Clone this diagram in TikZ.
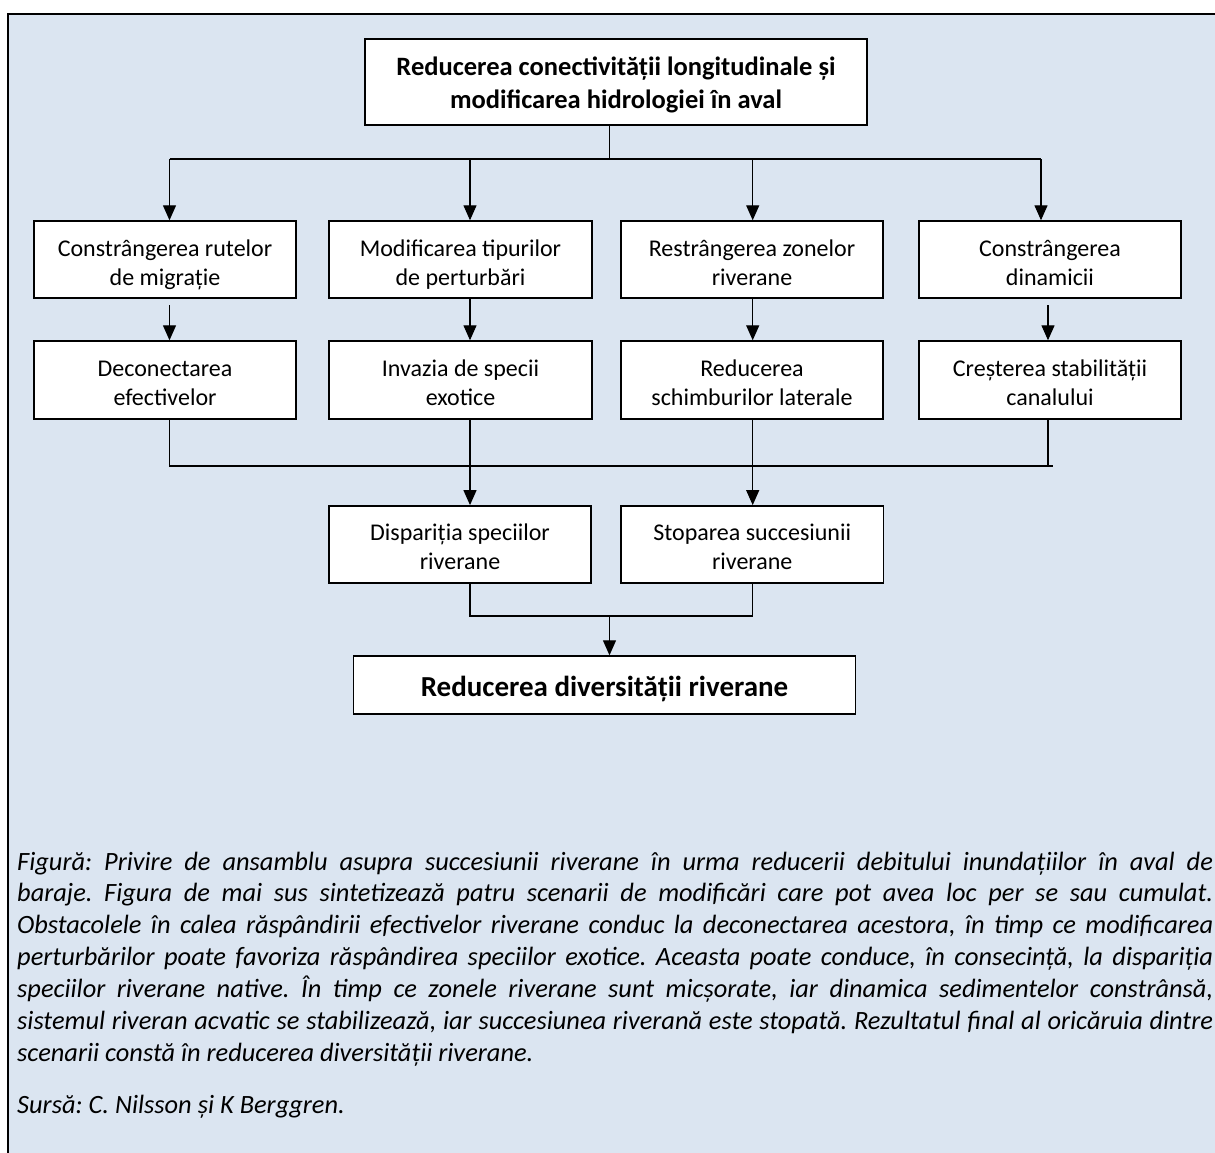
\documentclass[tikz,border=0pt]{standalone}
\usepackage{fontspec}
\setmainfont{Carlito}
\usetikzlibrary{arrows.meta}
\definecolor{bgblue}{HTML}{DBE5F1}
\frenchspacing
\begin{document}
\begin{tikzpicture}[x=1pt,y=-1pt,
  boxn/.style={draw=black, line width=1.4pt, fill=white, inner sep=0pt, align=center,
    font=\fontsize{24}{29}\selectfont, text height=51pt, text depth=0pt},
  ln/.style={draw=black, line width=1.2pt},
  arr/.style={ln, -{Triangle[width=13pt,length=15pt]}},
  capl/.style={anchor=base west, inner sep=0pt, font=\fontsize{26.4}{32}\selectfont\itshape}
]
\useasboundingbox (0,0) rectangle (1215,1153);
\clip (0,0) rectangle (1215,1153);
\fill[white] (0,0) rectangle (1215,1153);
\fill[bgblue] (8,14) rectangle (1240,1180);
\draw[line width=1.6pt] (8,1180) -- (8,14) -- (1240,14);

% top box
\node[boxn, minimum width=502pt, minimum height=86pt, font=\fontsize{26.5}{32.5}\selectfont\bfseries, text height=53pt]
  (top) at (616,82) {Reducerea conectivității longitudinale și\\modificarea hidrologiei în aval};

% row 1
\node[boxn, minimum width=262pt, minimum height=77pt] (b1) at (165,259.5) {Constrângerea rutelor\\de migrație};
\node[boxn, minimum width=263pt, minimum height=77pt] (b2) at (460.5,259.5) {Modificarea tipurilor\\de perturbări};
\node[boxn, minimum width=262pt, minimum height=77pt] (b3) at (752,259.5) {Restrângerea zonelor\\riverane};
\node[boxn, minimum width=262pt, minimum height=77pt] (b4) at (1050,259.5) {Constrângerea\\dinamicii};

% row 2
\node[boxn, minimum width=262pt, minimum height=78pt] (d1) at (165,380) {Deconectarea\\efectivelor};
\node[boxn, minimum width=263pt, minimum height=78pt] (d2) at (460.5,380) {Invazia de specii\\exotice};
\node[boxn, minimum width=262pt, minimum height=78pt] (d3) at (752,380) {Reducerea\\schimburilor laterale};
\node[boxn, minimum width=262pt, minimum height=78pt] (d4) at (1050,380) {Creșterea stabilității\\canalului};

% row 3
\node[boxn, minimum width=262pt, minimum height=77pt] (e1) at (460,544.3) {Dispariția speciilor\\riverane};
\node[boxn, minimum width=262.5pt, minimum height=77pt] (e2) at (752.2,544.3) {Stoparea succesiunii\\riverane};

% final
\node[boxn, minimum width=502pt, minimum height=58pt, font=\fontsize{29}{35}\selectfont\bfseries, text height=22pt]
  (fin) at (604.5,685) {Reducerea diversității riverane};

% connectors top
\coordinate (j0) at (609.5,159);
\coordinate (bl) at (169.5,159);
\coordinate (c2) at (470,159);
\coordinate (c3) at (752.7,159);
\coordinate (br) at (1041,159);
\draw[ln] (top.south -| j0) -- (j0);
\draw[ln] (bl) -- (br);
\draw[arr] (bl) -- (bl |- b1.north);
\draw[arr] (c2) -- (c2 |- b2.north);
\draw[arr] (c3) -- (c3 |- b3.north);
\draw[arr] (br) -- (br |- b4.north);

% row1 -> row2
\coordinate (a1) at (169.5,305);
\coordinate (a4) at (1048,305);
\draw[arr] (a1) -- (a1 |- d1.north);
\draw[arr] (b2.south -| c2) -- (d2.north -| c2);
\draw[arr] (b3.south -| c3) -- (d3.north -| c3);
\draw[arr] (a4) -- (a4 |- d4.north);

% row2 -> row3
\coordinate (l1) at (169.5,466);
\coordinate (l4) at (1048,466);
\coordinate (l4e) at (1053,466);
\draw[ln] (d1.south -| l1) -- (l1) -- (l4e);
\draw[ln] (d4.south -| l4) -- (l4);
\draw[arr] (d2.south -| c2) -- (e1.north -| c2);
\draw[arr] (d3.south -| c3) -- (e2.north -| c3);

% row3 -> final
\coordinate (m) at (609.5,616);
\draw[ln] (e1.south -| c2) |- (m) -| (e2.south -| c3);
\draw[arr] (m) -- (m |- fin.north);

% caption
\node[capl] (cap1) at (17,870) {\makebox[1196pt][s]{Figură: Privire de ansamblu asupra succesiunii riverane în urma reducerii debitului inundațiilor în aval de}};
\node[capl] (cap2) at (17,901.9) {\makebox[1196pt][s]{baraje. Figura de mai sus sintetizează patru scenarii de modificări care pot avea loc per se sau cumulat.}};
\node[capl] (cap3) at (17,933.8) {\makebox[1196pt][s]{Obstacolele în calea răspândirii efectivelor riverane conduc la deconectarea acestora, în timp ce modificarea}};
\node[capl] (cap4) at (17,965.7) {\makebox[1196pt][s]{perturbărilor poate favoriza răspândirea speciilor exotice. Aceasta poate conduce, în consecință, la dispariția}};
\node[capl] (cap5) at (17,997.6) {\makebox[1196pt][s]{speciilor riverane native. În timp ce zonele riverane sunt micșorate, iar dinamica sedimentelor constrânsă,}};
\node[capl] (cap6) at (17,1029.5) {\makebox[1196pt][s]{sistemul riveran acvatic se stabilizează, iar succesiunea riverană este stopată. Rezultatul final al oricăruia dintre}};
\node[capl] (cap7) at (17,1061.4) {scenarii constă în reducerea diversității riverane.};
\node[capl] (src) at (17,1113) {Sursă: C. Nilsson și K Berggren.};
\end{tikzpicture}
\end{document}
